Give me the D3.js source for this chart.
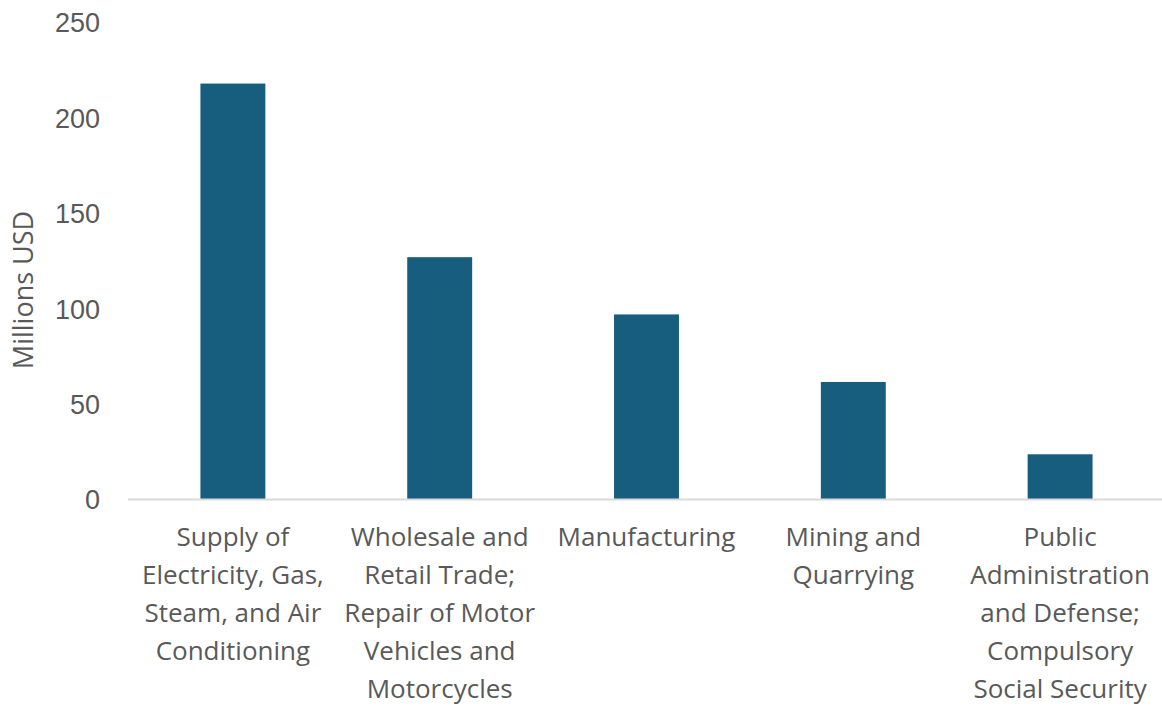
<!DOCTYPE html>
<html>
<head>
<meta charset="utf-8">
<script src="https://cdn.jsdelivr.net/npm/d3@7"></script>
<style>
  html, body { margin: 0; padding: 0; background: #ffffff; }
  svg { display: block; }
</style>
</head>
<body>
<svg id="chart" width="1162" height="706"></svg>
<script>
// Sectors, each label pre-split into the lines it is shown on
const categories = [
  "Supply of Electricity, Gas, Steam, and Air Conditioning",
  "Wholesale and Retail Trade; Repair of Motor Vehicles and Motorcycles",
  "Manufacturing",
  "Mining and Quarrying",
  "Public Administration and Defense; Compulsory Social Security"
];
const labelLines = [
  ["Supply of", "Electricity, Gas,", "Steam, and Air", "Conditioning"],
  ["Wholesale and", "Retail Trade;", "Repair of Motor", "Vehicles and", "Motorcycles"],
  ["Manufacturing"],
  ["Mining and", "Quarrying"],
  ["Public", "Administration", "and Defense;", "Compulsory", "Social Security"]
];
// Values in millions USD
const values = [218, 127, 97, 61.6, 23.7];
const yTicks = [0, 50, 100, 150, 200, 250];
const yTitle = "Millions USD";

const svg = d3.select("#chart");
const margin = { left: 128, right: 0, top: 22.5, bottom: 206.5 };
const W = 1162, H = 706;

const x = d3.scaleBand()
  .domain(categories)
  .range([margin.left + 1.5, W + 1.5])
  .paddingInner(0.686)
  .paddingOuter(0.343);

const y = d3.scaleLinear()
  .domain([0, 250])
  .range([H - margin.bottom, margin.top]);

// Y axis: labels only, no line or ticks
const yAxis = d3.axisLeft(y).tickValues(yTicks).tickSize(0).tickPadding(0);
const gy = svg.append("g")
  .attr("transform", `translate(${100},0)`)
  .call(yAxis);
gy.select(".domain").remove();
gy.selectAll("text")
  .attr("fill", "#595959")
  .attr("font-family", "'Liberation Sans', Arial, sans-serif")
  .attr("font-size", 27)
  .attr("dy", "0.35em");

// Bars
svg.append("g")
  .selectAll("rect")
  .data(values)
  .join("rect")
  .attr("x", (d, i) => x(categories[i]))
  .attr("width", x.bandwidth())
  .attr("y", d => y(d))
  .attr("height", d => y(0) - y(d))
  .attr("fill", "#175e7e");

// Baseline
svg.append("line")
  .attr("x1", margin.left)
  .attr("x2", W)
  .attr("y1", y(0))
  .attr("y2", y(0))
  .attr("stroke", "#d9d9d9")
  .attr("stroke-width", 2);

// Category labels, wrapped into lines under each bar
const xAxisLabels = svg.append("g")
  .selectAll("text")
  .data(categories)
  .join("text")
  .attr("text-anchor", "middle")
  .attr("fill", "#595959")
  .attr("font-family", "'Open Sans', sans-serif")
  .attr("font-size", 26)
  .attr("x", d => x(d) + x.bandwidth() / 2)
  .attr("y", 546);
xAxisLabels.each(function(d, i) {
  const t = d3.select(this);
  const cx = x(d) + x.bandwidth() / 2;
  labelLines[i].forEach((ln, k) => {
    t.append("tspan")
      .attr("x", cx)
      .attr("dy", k === 0 ? 0 : 38)
      .text(ln);
  });
});

// Y axis title
svg.append("text")
  .attr("transform", `translate(33,290) rotate(-90)`)
  .attr("text-anchor", "middle")
  .attr("fill", "#595959")
  .attr("font-family", "'Open Sans', sans-serif")
  .attr("font-size", 27)
  .text(yTitle);
</script>
</body>
</html>
